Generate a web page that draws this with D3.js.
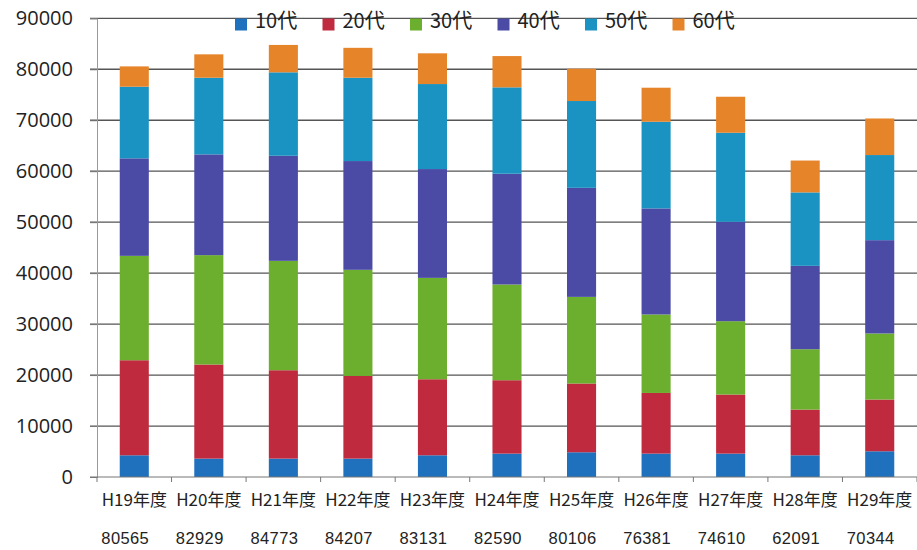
<!DOCTYPE html>
<html><head><meta charset="utf-8">
<script src="https://cdn.jsdelivr.net/npm/d3@7"></script>
<style>
html,body{margin:0;padding:0;background:#fff;}
svg{display:block;}
</style></head>
<body>
<svg id="chart" width="917" height="550"></svg>
<script>
const categories = ["H19年度","H20年度","H21年度","H22年度","H23年度","H24年度","H25年度","H26年度","H27年度","H28年度","H29年度"];
const seriesNames = ["10代","20代","30代","40代","50代","60代"];
const s10 = [4260,3610,3610,3610,4260,4590,4850,4590,4590,4260,5050];
const s20 = [18650,18460,17340,16220,14920,14400,13490,11900,11590,8970,10150];
const s30 = [20480,21460,21460,20820,19890,18780,17000,15400,14390,11840,12960];
const s40 = [19130,19770,20620,21340,21350,21730,21400,20810,19500,16360,18310];
const s50 = [14060,15040,16370,16350,16680,16950,17030,17000,17470,14410,16700];
const s60 = [3985,4589,5373,5867,6031,6140,6336,6681,7070,6251,7174];
const totals = ["80565","82929","84773","84207","83131","82590","80106","76381","74610","62091","70344"];
const yTicks = [0,10000,20000,30000,40000,50000,60000,70000,80000,90000];
const colors = ["#1f70bd","#c02a3e","#6cae2d","#4b4ba6","#1a93c2","#e6842a"];

const seriesValues = [s10,s20,s30,s40,s50,s60];
const rows = categories.map((c,i)=>{
  const r = {cat:c};
  seriesNames.forEach((s,j)=>{ r[s]=seriesValues[j][i]; });
  return r;
});

const svg = d3.select("#chart");
const pLeft = 97, pRight = 917, pTop = 18.3, pBottom = 477;

const x = d3.scaleBand().domain(categories).range([pLeft,pRight]).paddingInner(0.61).paddingOuter(0.305);
const y = d3.scaleLinear().domain([0,90000]).range([pBottom,pTop]);

// gridlines
svg.append("g").selectAll("line").data(yTicks.filter(d=>d>0)).join("line")
  .attr("x1",90).attr("x2",pRight).attr("y1",d=>y(d)).attr("y2",d=>y(d))
  .attr("stroke","#555").attr("stroke-width",1.3);

// y axis
const yAxis = svg.append("g").attr("transform",`translate(${pLeft},0)`)
  .call(d3.axisLeft(y).tickValues(yTicks).tickSize(7).tickPadding(17).tickFormat(d3.format("d")));
yAxis.select(".domain").attr("stroke","#999").attr("stroke-width",1);
yAxis.selectAll(".tick line").attr("stroke","#777");
yAxis.selectAll("text").attr("font-family","'Open Sans','Noto Sans',sans-serif").attr("font-size",20).attr("fill","#222");

// stacked bars
const stack = d3.stack().keys(seriesNames)(rows);
svg.append("g").selectAll("g").data(stack).join("g")
  .attr("fill",(d,i)=>colors[i])
  .selectAll("rect").data(d=>d).join("rect")
  .attr("x",d=>x(d.data.cat)).attr("width",x.bandwidth())
  .attr("y",d=>y(d[1])).attr("height",d=>y(d[0])-y(d[1]));

// x axis
const step = x.step();
const xAxis = svg.append("g");
xAxis.append("line").attr("x1",90).attr("x2",pRight).attr("y1",pBottom).attr("y2",pBottom).attr("stroke","#777").attr("stroke-width",1.2);
xAxis.selectAll("line.tk").data(d3.range(categories.length+1)).join("line").attr("class","tk")
  .attr("x1",i=>pLeft+i*step).attr("x2",i=>pLeft+i*step).attr("y1",pBottom).attr("y2",pBottom+5)
  .attr("stroke","#777");
xAxis.selectAll("text.cat").data(categories).join("text").attr("class","cat")
  .attr("x",d=>x(d)+x.bandwidth()/2).attr("y",501)
  .attr("text-anchor","middle").attr("dominant-baseline","middle")
  .attr("font-family","'Noto Sans CJK JP',sans-serif").attr("font-size",17).attr("fill","#222")
  .text(d=>d);
svg.append("g").selectAll("text").data(totals).join("text")
  .attr("x",(d,i)=>x(categories[i])+x.bandwidth()/2-9).attr("y",540)
  .attr("text-anchor","middle").attr("dominant-baseline","middle")
  .attr("font-family","'Liberation Sans',Arial,sans-serif").attr("font-size",16.5).attr("letter-spacing",0.4).attr("fill","#222")
  .text(d=>d);

// legend
const lg = svg.append("g");
const lgItems = lg.selectAll("g").data(seriesNames).join("g")
  .attr("transform",(d,i)=>`translate(${235+i*87.5},0)`);
lgItems.append("rect").attr("x",0).attr("y",18.5).attr("width",12).attr("height",12).attr("fill",(d,i)=>colors[i]);
lgItems.append("text").attr("x",20).attr("y",23).attr("dominant-baseline","middle")
  .attr("font-family","'Noto Sans CJK JP',sans-serif").attr("font-size",20).attr("fill","#222")
  .text(d=>d);
</script>
</body></html>
